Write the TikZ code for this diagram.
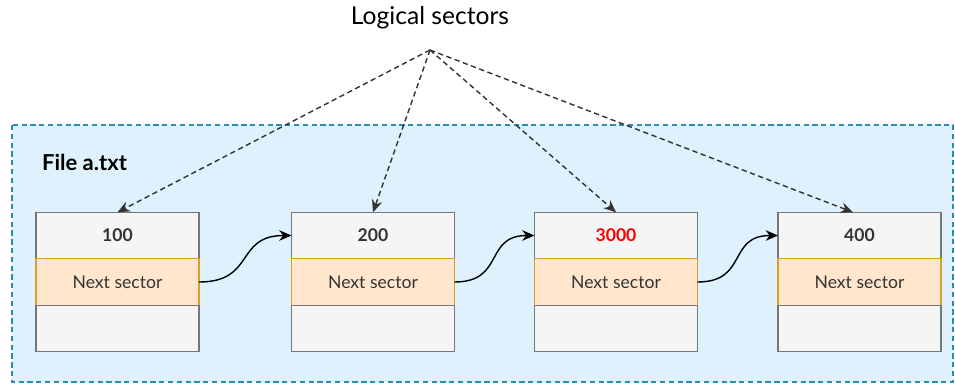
\documentclass[tikz,border=0pt]{standalone}
\usepackage{fontspec}
\setmainfont{Lato}
\usepackage{tikz}
\usepackage{xcolor}
\usetikzlibrary{calc,arrows.meta,positioning}

\definecolor{filebg}{HTML}{DEF1FC}
\definecolor{fileline}{HTML}{2A8CB5}
\definecolor{cellbg}{HTML}{F5F5F5}
\definecolor{cellline}{HTML}{777777}
\definecolor{nextbg}{HTML}{FFE6CC}
\definecolor{nextline}{HTML}{D7A020}

\begin{document}
\begin{tikzpicture}[cell/.style={rectangle, draw=cellline, fill=cellbg, line width=0.8pt, inner sep=0, outer sep=0, minimum width=3.26cm, minimum height=0.93cm, font=\fontsize{10}{12}\selectfont\bfseries, text=black!80},
	nextcell/.style={cell, draw=nextline, fill=nextbg, font=\fontsize{10}{12}\selectfont, text=black!80},
	sectlink/.style={dash pattern=on 3pt off 2pt, thick, black!80, -{Stealth[length=7pt,width=6pt]}},
	nextlink/.style={thick, black, -{Stealth[length=7pt,width=6pt]}}]

		\useasboundingbox (0,0) rectangle (19.1,-7.7);
		%file area
		\draw[fill=filebg, draw=fileline, densely dashed, thick] (0.24,-2.5) rectangle (19.06,-7.64);
		\node[right, font=\fontsize{12.5}{14}\selectfont\bfseries] at (0.72,-3.24) (fname) {File a.txt};
		%logical sectors
		\node[font=\fontsize{14}{16}\selectfont] at (8.6,-0.36) (lsec) {Logical sectors};
		\coordinate (apex) at (8.6,-1.0);
		%sectors
		\foreach \i/\x/\lab in {1/2.35/100, 2/7.46/200, 3/12.32/\textcolor{red}{3000}, 4/17.19/400} {
			\node[cell] at (\x,-4.71) (h\i) {\lab};
			\node[nextcell,below=0pt of h\i] (n\i) {Next sector};
			\node[cell,below=0pt of n\i] (e\i) {};
		}
		\foreach \i in {1,2,3} {
			\draw[sectlink] (apex) -- (h\i.north);
		}
		\draw[sectlink] (apex) -- ([xshift=-0.13cm]h4.north);
		%next links
		\foreach \i/\j in {1/2,2/3,3/4} {
			\draw[nextlink] (n\i.east) to[out=0,in=180,looseness=1.4] (h\j.west);
		}
	\end{tikzpicture}
\end{document}
